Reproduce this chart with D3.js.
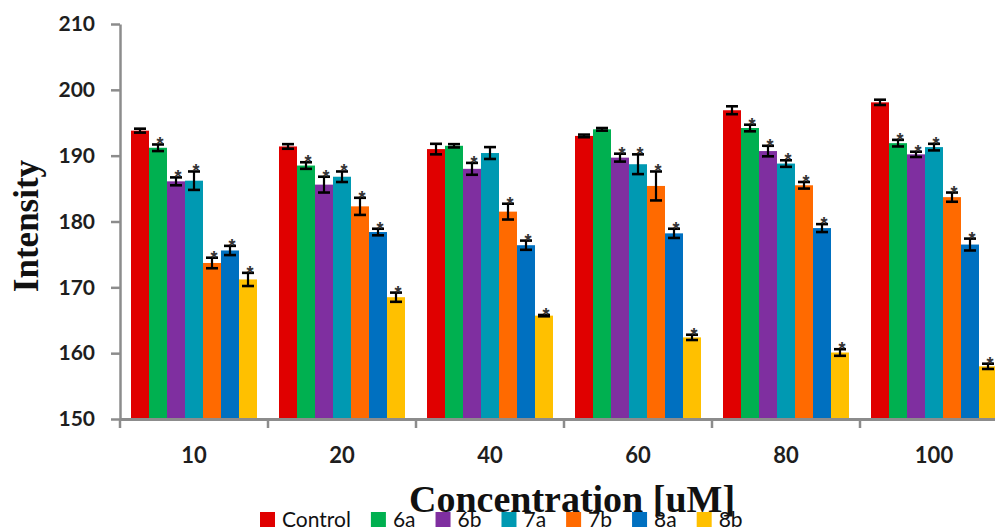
<!DOCTYPE html>
<html>
<head>
<meta charset="utf-8">
<script src="https://cdn.jsdelivr.net/npm/d3@7"></script>
<style>
  body { margin: 0; background: #fff; }
  svg { display: block; }
</style>
</head>
<body>
<div id="chart"></div>
<script>
// Concentrations on the x axis
const categories = ["10", "20", "40", "60", "80", "100"];

// Mean intensity per series (one value per concentration)
const control = [193.8, 191.4, 191.0, 193.0, 196.9, 198.1];
const s6a = [191.2, 188.5, 191.5, 194.0, 194.2, 191.9];
const s6b = [186.1, 185.6, 188.0, 189.7, 190.7, 190.2];
const s7a = [186.2, 186.8, 190.4, 188.7, 188.8, 191.3];
const s7b = [173.7, 182.3, 181.5, 185.4, 185.5, 183.7];
const s8a = [175.6, 178.4, 176.4, 178.2, 179.0, 176.5];
const s8b = [171.2, 168.5, 165.7, 162.4, 160.1, 158.0];

// Error bar half-lengths
const errControl = [0.3, 0.35, 0.8, 0.2, 0.6, 0.4];
const err6a = [0.5, 0.5, 0.25, 0.2, 0.5, 0.5];
const err6b = [0.6, 1.2, 0.9, 0.6, 0.8, 0.4];
const err7a = [1.4, 0.8, 0.9, 1.5, 0.5, 0.5];
const err7b = [0.8, 1.3, 1.2, 2.2, 0.5, 0.7];
const err8a = [0.7, 0.5, 0.7, 0.7, 0.6, 0.9];
const err8b = [1.0, 0.7, 0.1, 0.4, 0.5, 0.4];

// Significance stars (1 = "*")
const starControl = [0, 0, 0, 0, 0, 0];
const star6a = [1, 1, 0, 0, 1, 1];
const star6b = [1, 1, 1, 1, 1, 1];
const star7a = [1, 1, 0, 1, 1, 1];
const star7b = [1, 1, 1, 1, 1, 1];
const star8a = [1, 1, 1, 1, 1, 1];
const star8b = [1, 1, 1, 1, 1, 1];

const seriesNames = ["Control", "6a", "6b", "7a", "7b", "8a", "8b"];
const colors = ["#E00000", "#00B050", "#7F2FA0", "#0099B2", "#FF6A00", "#0070C0", "#FFC000"];
const yTicks = [150, 160, 170, 180, 190, 200, 210];

const seriesValues = [control, s6a, s6b, s7a, s7b, s8a, s8b];
const seriesErrors = [errControl, err6a, err6b, err7a, err7b, err8a, err8b];
const seriesStars = [starControl, star6a, star6b, star7a, star7b, star8a, star8b];

const W = 995, H = 530;

const svg = d3.select("#chart").append("svg")
    .attr("width", W)
    .attr("height", H);

// Scales
const x0 = d3.scaleBand().domain(categories).range([120, 1008]);
const x1 = d3.scaleBand().domain(seriesNames).range([11, 137]);
const y = d3.scaleLinear().domain([150, 210]).range([419, 24]);
const color = d3.scaleOrdinal().domain(seriesNames).range(colors);

// Flatten into one record per bar
const bars = [];
categories.forEach((c, i) => {
  seriesNames.forEach((s, j) => {
    bars.push({ cat: c, series: s, value: seriesValues[j][i], err: seriesErrors[j][i], star: seriesStars[j][i] });
  });
});

// Bars
svg.append("g").selectAll("rect")
  .data(bars)
  .join("rect")
    .attr("x", d => x0(d.cat) + x1(d.series))
    .attr("y", d => y(d.value))
    .attr("width", x1.bandwidth())
    .attr("height", d => y(150) - y(d.value))
    .attr("fill", d => color(d.series));

// Error bars
const eb = svg.append("g").attr("stroke", "#000").attr("stroke-width", 2.2);
const cx = d => x0(d.cat) + x1(d.series) + x1.bandwidth() / 2;
eb.selectAll(".v").data(bars).join("line")
    .attr("x1", cx).attr("x2", cx)
    .attr("y1", d => y(d.value + d.err)).attr("y2", d => y(d.value - d.err));
eb.selectAll(".t").data(bars).join("line")
    .attr("x1", d => cx(d) - 6).attr("x2", d => cx(d) + 6)
    .attr("y1", d => y(d.value + d.err)).attr("y2", d => y(d.value + d.err))
    .attr("stroke-width", 2.6);
eb.selectAll(".b").data(bars).join("line")
    .attr("x1", d => cx(d) - 6).attr("x2", d => cx(d) + 6)
    .attr("y1", d => y(d.value - d.err)).attr("y2", d => y(d.value - d.err))
    .attr("stroke-width", 2.6);

// Stars
svg.append("g").selectAll("text")
  .data(bars.filter(d => d.star))
  .join("text")
    .attr("x", d => cx(d) + 2)
    .attr("y", d => y(d.value + d.err) + 6)
    .attr("text-anchor", "middle")
    .style("font-family", "Liberation Sans, sans-serif")
    .style("font-weight", "bold")
    .style("font-size", "18px")
    .attr("fill", "#333")
    .text("*");

// Y axis
const yAxis = svg.append("g")
    .attr("transform", "translate(120,0)")
    .call(d3.axisLeft(y).tickValues(yTicks).tickSize(9).tickPadding(16).tickSizeOuter(0));
yAxis.select(".domain").attr("stroke", "#8c8c8c").attr("stroke-width", 2.5);
yAxis.selectAll(".tick line").attr("stroke", "#8c8c8c").attr("stroke-width", 2.5);
yAxis.selectAll(".tick text")
    .style("font-family", "Lato, sans-serif")
    .style("font-weight", "bold")
    .style("font-size", "21px")
    .attr("fill", "#1e1e1e");

// X axis
const xAxis = svg.append("g")
    .attr("transform", "translate(0,419)")
    .call(d3.axisBottom(x0).tickSize(0).tickPadding(28).tickSizeOuter(0));
xAxis.select(".domain").attr("stroke", "#8c8c8c").attr("stroke-width", 3);
xAxis.selectAll(".tick text")
    .style("font-family", "Lato, sans-serif")
    .style("font-weight", "bold")
    .style("font-size", "22px")
    .attr("fill", "#1e1e1e");
// tick marks at the band edges
const edges = categories.map(c => x0(c)).concat([x0.range()[1]]);
xAxis.selectAll(".edge").data(edges).join("line")
    .attr("x1", d => d).attr("x2", d => d)
    .attr("y1", 0).attr("y2", 9)
    .attr("stroke", "#8c8c8c").attr("stroke-width", 2.5);

// Axis titles
svg.append("text")
    .attr("transform", "translate(38,226) rotate(-90)")
    .attr("text-anchor", "middle")
    .style("font-family", "Liberation Serif, serif")
    .style("font-weight", "bold")
    .style("font-size", "35px")
    .attr("fill", "#111")
    .text("Intensity");

svg.append("text")
    .attr("x", 572)
    .attr("y", 512)
    .attr("text-anchor", "middle")
    .style("font-family", "Liberation Serif, serif")
    .style("font-weight", "bold")
    .style("font-size", "38px")
    .attr("fill", "#111")
    .text("Concentration [uM]");

// Legend
const legend = svg.append("g").attr("transform", "translate(260,512)");
let lx = 0;
seriesNames.forEach((s, i) => {
  const item = legend.append("g").attr("transform", `translate(${lx},0)`);
  item.append("rect").attr("width", 15).attr("height", 15).attr("fill", colors[i]);
  const t = item.append("text")
      .attr("x", 22).attr("y", 15)
      .style("font-family", "Lato, sans-serif")
      .style("font-size", "21px")
      .attr("fill", "#111")
      .text(s);
  lx += 22 + t.node().getComputedTextLength() + 20;
});
</script>
</body>
</html>
